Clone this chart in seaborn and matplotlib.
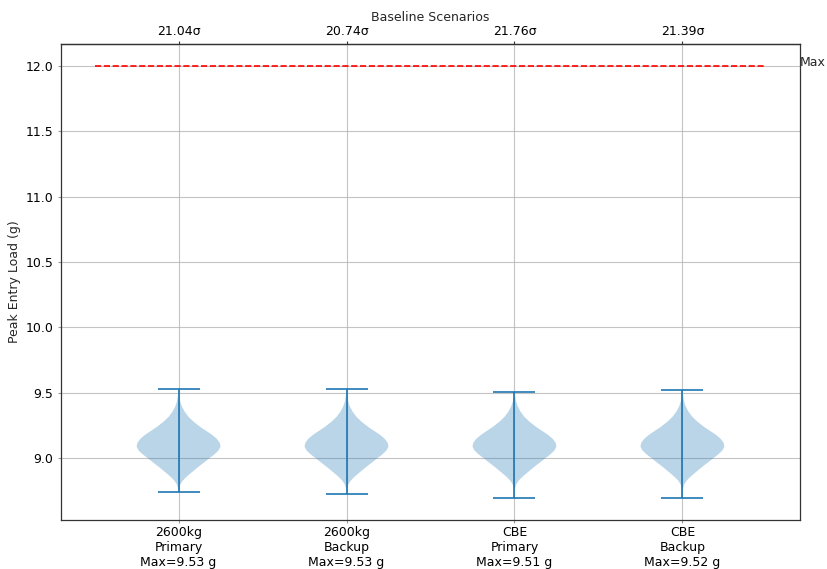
import matplotlib
matplotlib.use("Agg")
import matplotlib.pyplot as plt
import matplotlib.transforms as mtransforms
import seaborn as sns

# Scenario labels and summary values
scenarios = ["2600kg\nPrimary", "2600kg\nBackup", "CBE\nPrimary", "CBE\nBackup"]
peak_max = [9.53, 9.53, 9.51, 9.52]
peak_min = [8.74, 8.73, 8.70, 8.695]
sigma_margin = [21.04, 20.74, 21.76, 21.39]
load_limit = 12.0

# Shared density profile of peak load (g) -> relative density
profile_load = [9.48, 9.44, 9.40, 9.36, 9.32, 9.28, 9.24, 9.21, 9.18, 9.15, 9.12, 9.09,
                9.06, 9.03, 9.00, 8.97, 8.93, 8.89, 8.86, 8.83, 8.80, 8.77]
profile_density = [0.015, 0.035, 0.075, 0.14, 0.23, 0.36, 0.52, 0.66, 0.80, 0.91, 0.98, 1.00,
                   0.95, 0.85, 0.73, 0.61, 0.45, 0.30, 0.19, 0.10, 0.04, 0.012]
tail_density = 0.004

sns.set_style("ticks")
plt.rcParams.update({
    "font.family": ["DejaVu Sans"],
    "font.size": 9,
    "axes.labelsize": 9,
    "xtick.labelsize": 9,
    "ytick.labelsize": 9,
    "axes.edgecolor": "#333333",
    "axes.linewidth": 0.9,
    "xtick.color": "#999999",
    "ytick.color": "#999999",
    "xtick.labelcolor": "black",
    "ytick.labelcolor": "black",
    "xtick.major.size": 2.5,
    "ytick.major.size": 2.5,
    "xtick.major.pad": 2.0,
    "ytick.major.pad": 3.0,
})

fig = plt.figure(figsize=(8.28, 5.69), dpi=100)
ax = fig.add_axes([61 / 828, 1 - 520 / 569, (800 - 61) / 828, (520 - 44) / 569])

stats = []
for lo, hi in zip(peak_min, peak_max):
    inside = [(c, d) for c, d in zip(profile_load, profile_density) if lo < c < hi]
    coords = [hi] + [c for c, _ in inside] + [lo]
    vals = [tail_density] + [d for _, d in inside] + [tail_density]
    stats.append({"coords": coords, "vals": vals, "mean": 9.1, "median": 9.1,
                  "min": lo, "max": hi})

positions = list(range(1, len(scenarios) + 1))
parts = ax.violin(stats, positions=positions, widths=0.5, showextrema=True)
for body in parts["bodies"]:
    body.set_facecolor("#1f77b4")
    body.set_edgecolor("none")
    body.set_alpha(0.3)
for key in ("cmaxes", "cmins", "cbars"):
    parts[key].set_color("#1f77b4")
    parts[key].set_linewidth(1.2)

ax.hlines(load_limit, 0.5, len(scenarios) + 0.5, colors="red", linestyles="--", linewidth=1.2)
trans = mtransforms.blended_transform_factory(ax.transAxes, ax.transData)
ax.text(1.0, load_limit, "Max", transform=trans, ha="left", va="baseline")

ax.set_xticks(positions)
ax.set_xticklabels([f"{s}\nMax={m:.2f} g" for s, m in zip(scenarios, peak_max)])
ax.set_yticks([9.0, 9.5, 10.0, 10.5, 11.0, 11.5, 12.0])
ax.set_ylabel("Peak Entry Load (g)", fontsize=9, labelpad=3)
ax.grid(True, color="#b0b0b0", linewidth=0.8, alpha=0.75)
ax.set_axisbelow(True)
for side in ("top", "right"):
    ax.spines[side].set_visible(True)

top = ax.secondary_xaxis("top")
top.set_xticks(positions)
top.set_xticklabels([f"{s:.2f}σ" for s in sigma_margin])
top.tick_params(axis="x", colors="#333333", labelcolor="black", length=2.5, pad=2.0)
top.set_xlabel("Baseline Scenarios", labelpad=3)

fig.savefig("out.png", dpi=100)
